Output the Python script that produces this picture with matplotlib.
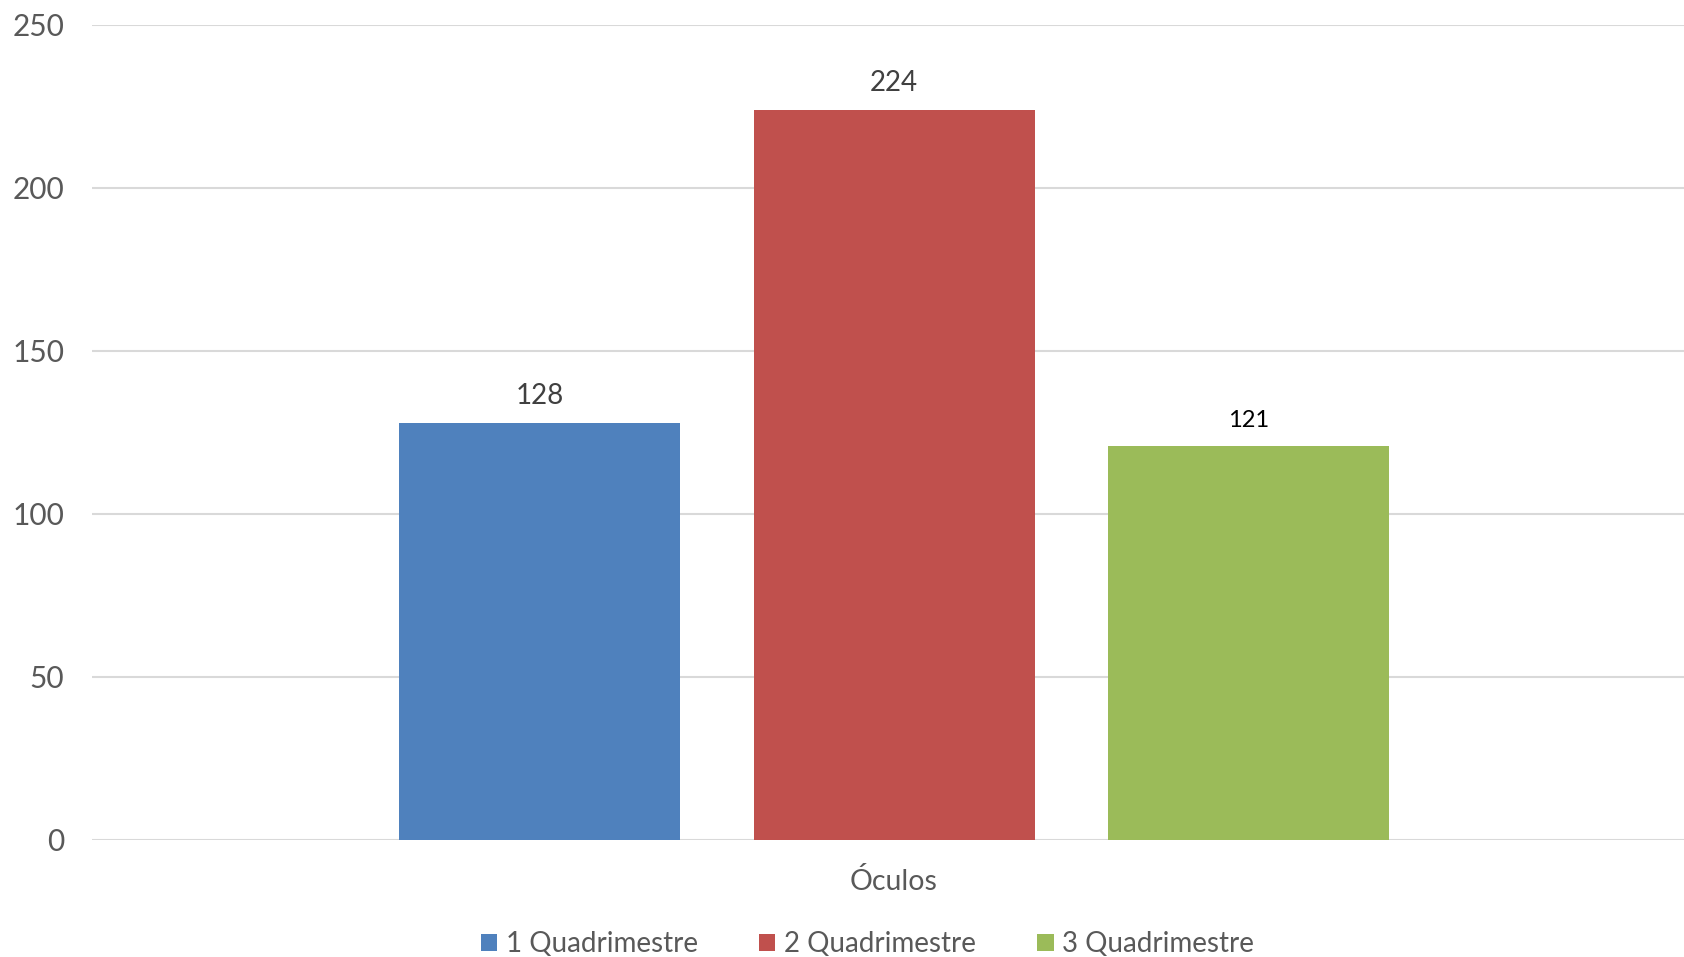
import matplotlib
matplotlib.use("Agg")
import matplotlib.pyplot as plt
from matplotlib.patches import Patch

plt.rcParams['font.family'] = ['Lato', 'DejaVu Sans']

category = "Óculos"
series_names = ["1 Quadrimestre", "2 Quadrimestre", "3 Quadrimestre"]
values = [128, 224, 121]
colors = ["#4F81BD", "#C0504D", "#9BBB59"]
yticks = [0, 50, 100, 150, 200, 250]

fig = plt.figure(figsize=(16.84, 9.57), dpi=100)
ax = fig.add_axes([0.0546, 0.1223, 0.9454, 0.8516])

width = 0.1765
step = 0.2225
for i, (v, c) in enumerate(zip(values, colors)):
    x = (i - 1) * step
    ax.bar(x, v, width=width, color=c, zorder=3)
    if i == 2:
        ax.text(x, v + 4.3, str(v), ha='center', va='bottom', fontsize=17, color='black')
    else:
        ax.text(x, v + 4.3, str(v), ha='center', va='bottom', fontsize=20, color='#404040')

ax.set_xlim(-0.5038, 0.4962)
ax.set_ylim(0, 250)
ax.set_yticks(yticks)
ax.set_yticklabels([str(t) for t in yticks], fontsize=21.5, color='#595959')
ax.set_xticks([0.0])
ax.set_xticklabels([category], fontsize=20.5, color='#595959')
ax.tick_params(axis='y', length=0, pad=20)
ax.tick_params(axis='x', length=0, pad=20)
ax.grid(axis='y', color='#D9D9D9', linewidth=1.5, zorder=0)
for s in ax.spines.values():
    s.set_visible(False)

handles = [Patch(facecolor=c, label=n) for c, n in zip(colors, series_names)]
fig.legend(handles=handles, loc='center', bbox_to_anchor=(0.515, 0.0133), ncol=3,
           frameon=False, fontsize=20, handlelength=0.6, handleheight=0.6,
           handletextpad=0.3, columnspacing=2.2, labelcolor='#595959')

fig.savefig("out.png", dpi=100)
